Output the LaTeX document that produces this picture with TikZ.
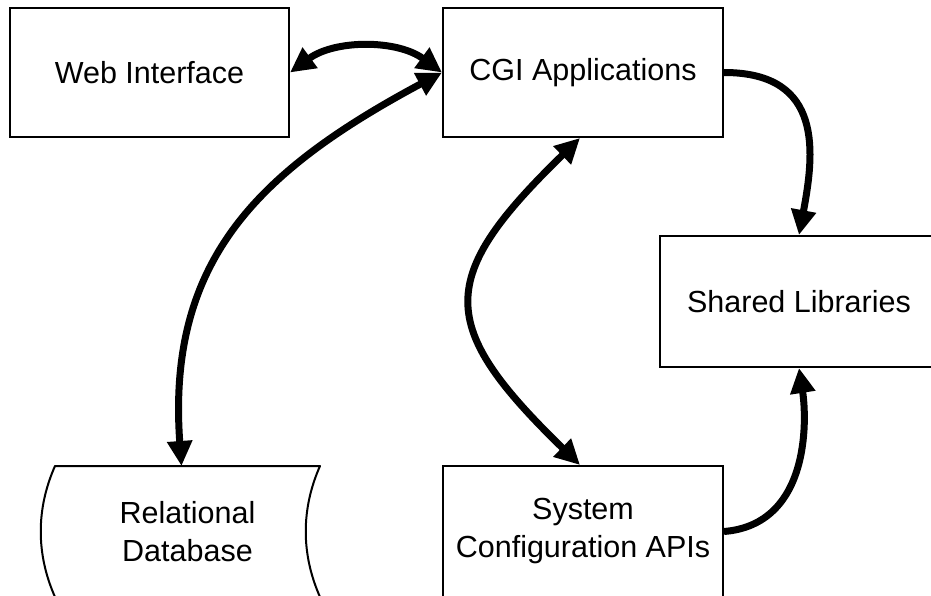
\documentclass[tikz,border=0pt]{standalone}
\usepackage{fontspec}
\setmainfont{Liberation Sans}
\usetikzlibrary{arrows.meta,calc}

\tikzset{
  lbl/.style={font=\fontsize{30.5}{38}\selectfont, align=center},
  box/.style={lbl, draw, line width=2pt, inner sep=0pt},
  tip/.tip={Triangle[length=25pt,width=24pt]},
  conn/.style={line width=7pt, -tip},
  biconn/.style={line width=7pt, tip-tip},
}

\begin{document}
\begin{tikzpicture}[x=1pt,y=-1pt]
  \useasboundingbox[fill=white] (0,0) rectangle (931,596);

  % components
  \node[box, minimum width=279, minimum height=129] (web) at (149.5,72.5) {Web Interface};
  \node[box, minimum width=280, minimum height=129] (cgi) at (583,72.5) {CGI Applications};
  \node[box, minimum width=278, minimum height=131] (shared) at (799,301.5) {Shared Libraries};
  \node[box, minimum width=280, minimum height=131] (sys) at (583,531.5) {System\\Configuration APIs};
  \node[lbl, minimum width=265, minimum height=131, inner sep=0pt, outer sep=0pt] (db) at (187.5,531.5) {Relational\\Database};

  % stored-data outline of the database
  \draw[line width=2pt, line join=round]
    (db.north west) -- (db.north east)
    .. controls ($(db.north east)+(-19,43)$) and ($(db.south east)+(-19,-43)$) .. (db.south east)
    -- (db.south west)
    .. controls ($(db.south west)+(-19,-43)$) and ($(db.north west)+(-19,43)$) .. (db.north west) -- cycle;

  % data flow
  \draw[biconn] (web.east) .. controls +(45,-33) and +(-45,-33) .. (cgi.west);
  \draw[biconn] (cgi.west) .. controls +(-183,98) and +(-15,-206) .. ([xshift=-6pt]db.north);
  \draw[biconn] ([xshift=-3pt]cgi.south) .. controls +(-144,140) and +(-144,-140) .. ([xshift=-3pt]sys.north);
  \draw[conn] (cgi.east) .. controls +(101,0) and +(15,-80) .. (shared.north);
  \draw[conn] (sys.east) .. controls +(86,-7) and +(8,52) .. (shared.south);
\end{tikzpicture}
\end{document}
